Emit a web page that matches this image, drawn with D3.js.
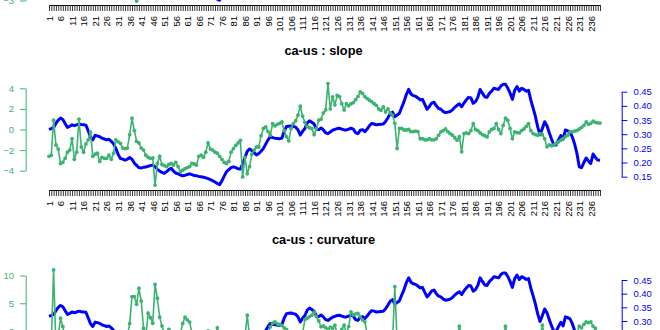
<!DOCTYPE html>
<html><head><meta charset="utf-8">
<script src="https://cdn.jsdelivr.net/npm/d3@7"></script>
<style>
body{margin:0;background:#fff}
svg{display:block}
text{font-family:"Liberation Sans",Arial,Helvetica,sans-serif}
</style>
</head><body>
<svg id="chart" width="660" height="330"></svg>
<script>
// ---------------- data ----------------
const obs = d3.range(1, 241);                       // observation index 1..240
const xLabelValues = obs.filter(i => (i - 1) % 5 === 0); // 1, 6, 11, ... 236
const panelTitles = ["ca-us : slope", "ca-us : curvature"];

// blue series (right axis), same in every panel
const fxSeries = [
 .317,.320,.324,.338,.350,.357,.352,.338,.324,.328,
 .333,.330,.333,.336,.334,.333,.332,.312,.290,.280,
 .296,.294,.291,.286,.283,.280,.282,.275,.266,.250,
 .228,.214,.212,.208,.212,.218,.212,.198,.190,.182,
 .181,.183,.184,.187,.189,.191,.185,.176,.170,.165,
 .162,.168,.175,.180,.170,.163,.160,.156,.153,.155,
 .158,.160,.157,.154,.153,.151,.150,.148,.146,.143,
 .140,.136,.131,.126,.122,.135,.152,.168,.175,.182,
 .185,.182,.178,.177,.195,.218,.240,.248,.242,.235,
 .227,.232,.240,.250,.265,.280,.291,.288,.286,.285,
 .284,.286,.310,.327,.328,.329,.327,.325,.315,.297,
 .310,.320,.340,.347,.342,.336,.318,.316,.322,.315,
 .305,.302,.308,.314,.317,.320,.321,.318,.315,.315,
 .318,.321,.318,.305,.302,.314,.316,.309,.318,.330,
 .338,.336,.333,.334,.335,.336,.345,.358,.372,.378,
 .362,.368,.374,.395,.415,.440,.458,.442,.436,.434,
 .428,.421,.423,.405,.388,.398,.410,.413,.400,.391,
 .388,.380,.376,.378,.380,.386,.395,.402,.407,.397,
 .410,.421,.430,.428,.409,.415,.430,.458,.445,.432,
 .430,.444,.452,.462,.460,.458,.470,.476,.476,.463,
 .445,.423,.455,.468,.452,.462,.458,.452,.455,.420,
 .392,.362,.325,.298,.320,.344,.330,.305,.282,.262,
 .262,.280,.295,.282,.315,.312,.308,.290,.265,.232,
 .185,.182,.200,.216,.205,.197,.230,.218,.209,.208
];

// green series, slope panel (left axis)
const slopeSeries = [
 -2.6,-2.5,0.9,-1.5,-1.9,-3.3,-3.2,-2.8,-2.2,-2.0,
 -0.9,-2.9,-2.2,1.0,-1.7,-2.2,-1.4,-1.0,-0.25,-2.6,
 -2.4,-2.3,-3.1,-2.7,-2.8,-2.8,-2.5,-2.9,-2.3,-1.0,
 -1.2,-1.35,-1.8,-1.85,-1.8,-0.5,1.1,-0.1,-1.15,-1.3,
 -1.8,-2.0,-2.5,-2.7,-2.8,-2.75,-5.4,-3.3,-2.6,-3.4,
 -3.5,-3.6,-3.4,-3.3,-3.45,-3.2,-3.6,-4.1,-3.95,-3.8,
 -3.7,-3.6,-3.3,-3.35,-3.45,-2.6,-2.5,-2.7,-2.2,-1.3,
 -1.9,-2.0,-2.2,-2.3,-2.6,-2.9,-3.2,-3.3,-3.1,-2.2,
 -1.85,-1.55,-1.3,-1.05,-4.6,-2.7,-4.3,-3.6,-2.4,-2.0,
 -1.7,-1.7,-0.6,0.1,0.25,-0.2,-0.55,0.58,0.35,0.5,
 0.6,0.74,-0.1,-0.7,-1.1,0.1,0.58,0.85,1.4,2.26,
 1.3,0.7,0.3,0.15,0.1,-0.5,0.1,0.9,1.0,1.6,
 1.9,4.46,2.0,3.17,2.4,3.3,3.2,2.5,1.9,2.5,
 2.3,2.5,2.6,2.9,3.2,3.65,3.5,3.2,3.0,2.85,
 2.7,2.5,2.35,2.0,1.87,2.2,1.7,2.0,1.6,1.4,
 0.6,-1.85,0.1,0.1,-0.05,-0.05,0.0,-0.2,-0.2,-0.15,
 -0.2,-0.9,-0.88,-1.0,-1.0,-0.9,-1.0,-1.0,-0.9,-0.55,
 -0.23,-0.1,0.05,-0.2,-0.4,-0.55,-0.8,-1.04,-0.7,-2.17,
 -0.4,-0.33,-0.4,-0.1,0.58,0.0,-0.1,-0.33,-0.5,-0.6,
 -0.72,-0.23,0.0,0.1,0.58,0.0,-0.4,0.4,1.1,0.9,
 0.1,-0.88,-0.23,-0.3,-0.33,-0.1,0.05,0.3,0.58,-0.1,
 -0.4,-0.5,-0.55,-0.4,-0.5,-0.9,-1.68,-1.5,-1.58,-1.5,
 -1.36,-1.2,-1.04,-0.88,-0.7,-0.55,-0.23,-0.23,-0.15,-0.1,
 0.05,0.2,0.4,0.74,0.5,0.6,0.8,0.7,0.65,0.62
];

// green series, curvature panel (left axis); values below ~0 fall under the picture edge
const curvatureSeries = [
 -3,-2,11.0,-3,-1,2.3,0.8,-1.5,-3,-3,
 -3,-3,-3,-3,-3,-3,-3,-3,-3,-3,
 -3,-3,-3,-3,-3,-3,-3,-3,-3,-3,
 -3,-3,-3,-3,-1,1.35,6.2,6.2,4.8,7.7,
 5.4,0.5,-1,3.2,2.4,1.4,8.4,5.9,2.5,0.9,
 -0.5,-0.8,0.3,-1,-3,-3,-3,-0.5,1.35,2.5,
 2.0,1.6,-0.5,-3,-3,-3,-3,-3,-1,0.0,
 -1,-3,-1,0.57,-1,-3,-3,-3,-3,-3,
 -3,-3,-3,-3,-3,-1,2.85,-1,-3,-3,
 -3,-3,-3,-3,-3,-0.5,0.76,1.4,1.65,1.3,
 1.2,1.0,0.57,0.3,-0.5,-3,-3,-3,-3,-3,
 -0.5,2.1,2.3,2.6,2.85,3.4,2.6,1.8,0.76,0.9,
 0.6,0.3,0.7,0.5,1.05,-0.5,-1,0.3,1.05,-0.5,
 0.8,3.45,2.9,3.1,3.15,2.6,2.0,1.65,-0.5,-3,
 -3,-3,-3,-3,-3,-3,-3,-3,-3,-2,
 8.0,-2,-3,-3,-3,-3,-3,-3,-3,-3,
 -3,-3,-3,-3,-3,-3,-3,-3,-3,-3,
 -3,-3,-3,-3,-3,-3,-3,-1,0.87,-1,
 -3,-3,-3,-3,-3,-3,-3,-3,-3,-3,
 -3,-3,-3,-3,-3,-3,-3,-1,0.87,-1,
 -3,-3,-3,-3,-3,-3,-3,-3,-3,-3,
 -3,-3,-3,-1,1.05,-1,-3,-3,-3,-3,
 -3,-3,-3,-3,-3,-3,-3,-3,-3,-0.5,
 0.87,0.6,1.2,1.65,1.5,1.65,0.87,0.5,-0.5,-1
];

// previous (level) panel: only its lowest points reach into the picture
const levelVisible = obs.map(i => i === 38 ? -2.7 : i === 39 ? -3.05 : i === 40 ? -2.75 : null);

const slopeTicks = [-4, -2, 0, 2, 4];
const curvatureTicks = [0, 5, 10];
const levelTicks = [-3];
const fxTicks = [0.15, 0.20, 0.25, 0.30, 0.35, 0.40, 0.45];

// ---------------- drawing ----------------
const GREEN = "#3cb371", BLUE = "#0000ff";
const svg = d3.select("#chart");
const x = d3.scaleLinear().domain([1, 240]).range([49, 600]);
const axisX0 = 25.7, axisX1 = 621.7;
const labelSet = new Set(xLabelValues);

function xAxis(yPos) {
  const g = svg.append("g").attr("transform", `translate(0,${yPos})`)
    .call(d3.axisBottom(x).tickValues(obs).tickSize(6).tickSizeOuter(0)
      .tickFormat(d => labelSet.has(d) ? String(d) : ""));
  g.select(".domain").attr("stroke", "#000").attr("stroke-width", 1);
  g.selectAll(".tick line").attr("stroke", "#222").attr("stroke-width", 0.9);
  g.selectAll("text").attr("transform", "rotate(-90)").attr("text-anchor", "end")
    .attr("x", -11).attr("y", 0).attr("dy", "0.35em")
    .attr("font-size", "9.5px").attr("fill", "#000")
    .style("font-family", '"Liberation Sans",Arial,sans-serif');
}

function leftAxis(scale, ticks, fmt) {
  const g = svg.append("g").attr("transform", `translate(${axisX0},0)`)
    .call(d3.axisLeft(scale).tickValues(ticks).tickSize(5.7).tickPadding(6).tickSizeOuter(0).tickFormat(fmt));
  g.selectAll(".domain, .tick line").attr("stroke", GREEN);
  g.selectAll("text").attr("fill", GREEN).attr("font-size", "9.5px")
    .style("font-family", '"Liberation Sans",Arial,sans-serif');
}

function rightAxis(scale, ticks) {
  const g = svg.append("g").attr("transform", `translate(${axisX1},0)`)
    .call(d3.axisRight(scale).tickValues(ticks).tickSize(5.7).tickPadding(6).tickSizeOuter(0)
      .tickFormat(d3.format(".2f")));
  g.selectAll(".domain, .tick line").attr("stroke", BLUE);
  g.selectAll("text").attr("fill", BLUE).attr("font-size", "9.5px")
    .style("font-family", '"Liberation Sans",Arial,sans-serif');
}

function greenLine(values, scale) {
  const pts = obs.map((i, k) => ({i, v: values[k]}));
  svg.append("path").datum(pts)
    .attr("fill", "none").attr("stroke", GREEN).attr("stroke-width", 1.6)
    .attr("d", d3.line().defined(d => d.v != null).x(d => x(d.i)).y(d => scale(d.v)));
  svg.append("g").selectAll("circle").data(pts.filter(d => d.v != null)).join("circle")
    .attr("cx", d => x(d.i)).attr("cy", d => scale(d.v)).attr("r", 1.9).attr("fill", GREEN);
}

function blueLine(scale) {
  const pts = obs.map((i, k) => ({i, v: fxSeries[k]}));
  svg.append("path").datum(pts)
    .attr("fill", "none").attr("stroke", BLUE).attr("stroke-width", 3).attr("stroke-linejoin", "round")
    .attr("d", d3.line().x(d => x(d.i)).y(d => scale(d.v)));
}

function title(txt, yBase) {
  svg.append("text").attr("x", 323.5).attr("y", yBase).attr("text-anchor", "middle")
    .attr("font-weight", "bold").attr("font-size", "12.8px").attr("fill", "#000").text(txt);
}

// ---- top panel (only its bottom edge is inside the picture)
const yLevel = d3.scaleLinear().domain([-3, 3]).range([0.5, -61]);
const yFxTop = d3.scaleLinear().domain([0.121, 0.45]).range([0.6, -93]);
xAxis(5);
leftAxis(yLevel, levelTicks, d3.format("d"));
blueLine(yFxTop);
greenLine(levelVisible, yLevel);

// ---- slope panel
const ySlope = d3.scaleLinear().domain([-4, 4]).range([170.7, 88.3]);
const yFxMid = d3.scaleLinear().domain([0.15, 0.45]).range([176.7, 91.7]);
title(panelTitles[0], 55);
xAxis(190);
leftAxis(ySlope, slopeTicks, d3.format("d"));
rightAxis(yFxMid, fxTicks);
blueLine(yFxMid);
greenLine(slopeSeries, ySlope);

// ---- curvature panel (cut by the bottom of the picture)
const yCurv = d3.scaleLinear().domain([0, 10]).range([331, 275.5]);
const yFxBot = d3.scaleLinear().domain([0.15, 0.45]).range([362, 280]);
title(panelTitles[1], 243.5);
leftAxis(yCurv, curvatureTicks, d3.format("d"));
rightAxis(yFxBot, fxTicks);
blueLine(yFxBot);
greenLine(curvatureSeries, yCurv);
</script>
</body></html>
